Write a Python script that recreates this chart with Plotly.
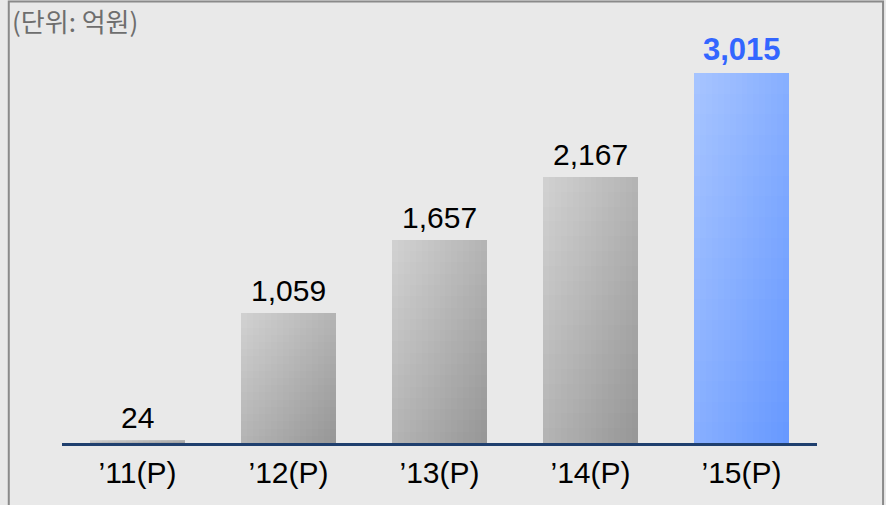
import plotly.graph_objects as go

# ---- data ----
categories = ["’11(P)", "’12(P)", "’13(P)", "’14(P)", "’15(P)"]
values = [24, 1059, 1657, 2167, 3015]
value_labels = ["24", "1,059", "1,657", "2,167", "3,015"]
unit_label = "(단위: 억원)"

# ---- style ----
HIGHLIGHT = 4
BAR_W = 0.63
N_COLS, N_ROWS = 16, 18
GRAY_LIGHT, GRAY_DARK = (0xD2, 0xD2, 0xD2), (0x96, 0x96, 0x96)
BLUE_LIGHT, BLUE_DARK = (0xA8, 0xC5, 0xFF), (0x66, 0x98, 0xFF)
FONT = "Liberation Sans, Arial, sans-serif"


def mix(a, b, t):
    return "rgb(%d,%d,%d)" % tuple(round(a[j] + (b[j] - a[j]) * t) for j in range(3))


fig = go.Figure()
for i in range(N_COLS):
    for k in range(N_ROWS):
        t = ((i + 0.5) / N_COLS + (1 - (k + 0.5) / N_ROWS)) / 2
        colors = [
            mix(BLUE_LIGHT, BLUE_DARK, t) if c == HIGHLIGHT else mix(GRAY_LIGHT, GRAY_DARK, t)
            for c in range(len(categories))
        ]
        fig.add_trace(go.Bar(
            x=categories,
            y=[v / N_ROWS for v in values],
            base=[v * k / N_ROWS for v in values],
            offset=-BAR_W / 2 + i * BAR_W / N_COLS,
            width=BAR_W / N_COLS * 1.04 if i < N_COLS - 1 else BAR_W / N_COLS,
            marker=dict(color=colors, line=dict(width=0)),
            showlegend=False,
            hoverinfo="skip",
        ))

for c, (cat, v, lab) in enumerate(zip(categories, values, value_labels)):
    hl = c == HIGHLIGHT
    fig.add_annotation(
        x=cat, y=v, text=f"<b>{lab}</b>" if hl else lab,
        showarrow=False, yanchor="bottom", yshift=4,
        font=dict(family=FONT, size=31 if hl else 30, color="#3366FF" if hl else "#000000"),
    )

fig.add_annotation(
    xref="paper", yref="paper", x=-0.069, y=1.024, xanchor="left", yanchor="middle",
    text=unit_label, showarrow=False,
    font=dict(family="Noto Sans CJK KR, sans-serif", size=26, color="#6E6E6E"),
)

fig.add_shape(
    type="rect", xref="paper", yref="paper",
    x0=-0.0705, x1=1.0875, y0=-0.3, y1=1.069,
    line=dict(color="#8A8A8A", width=2), fillcolor="rgba(0,0,0,0)", layer="below",
)

fig.update_layout(
    width=886, height=505,
    margin=dict(l=62, r=69, t=30, b=62),
    paper_bgcolor="#E9E9E9", plot_bgcolor="#E9E9E9",
    barmode="overlay", bargap=0,
    xaxis=dict(
        type="category", range=[-0.5, 4.5],
        showline=True, linecolor="#1F3F6E", linewidth=3,
        showgrid=False, zeroline=False,
        ticks="outside", ticklen=0, ticklabelstandoff=1,
        tickfont=dict(family=FONT, size=30, color="#000000"),
    ),
    yaxis=dict(range=[0, 3367], visible=False, showgrid=False, zeroline=False),
)

fig.write_html("out.html")
